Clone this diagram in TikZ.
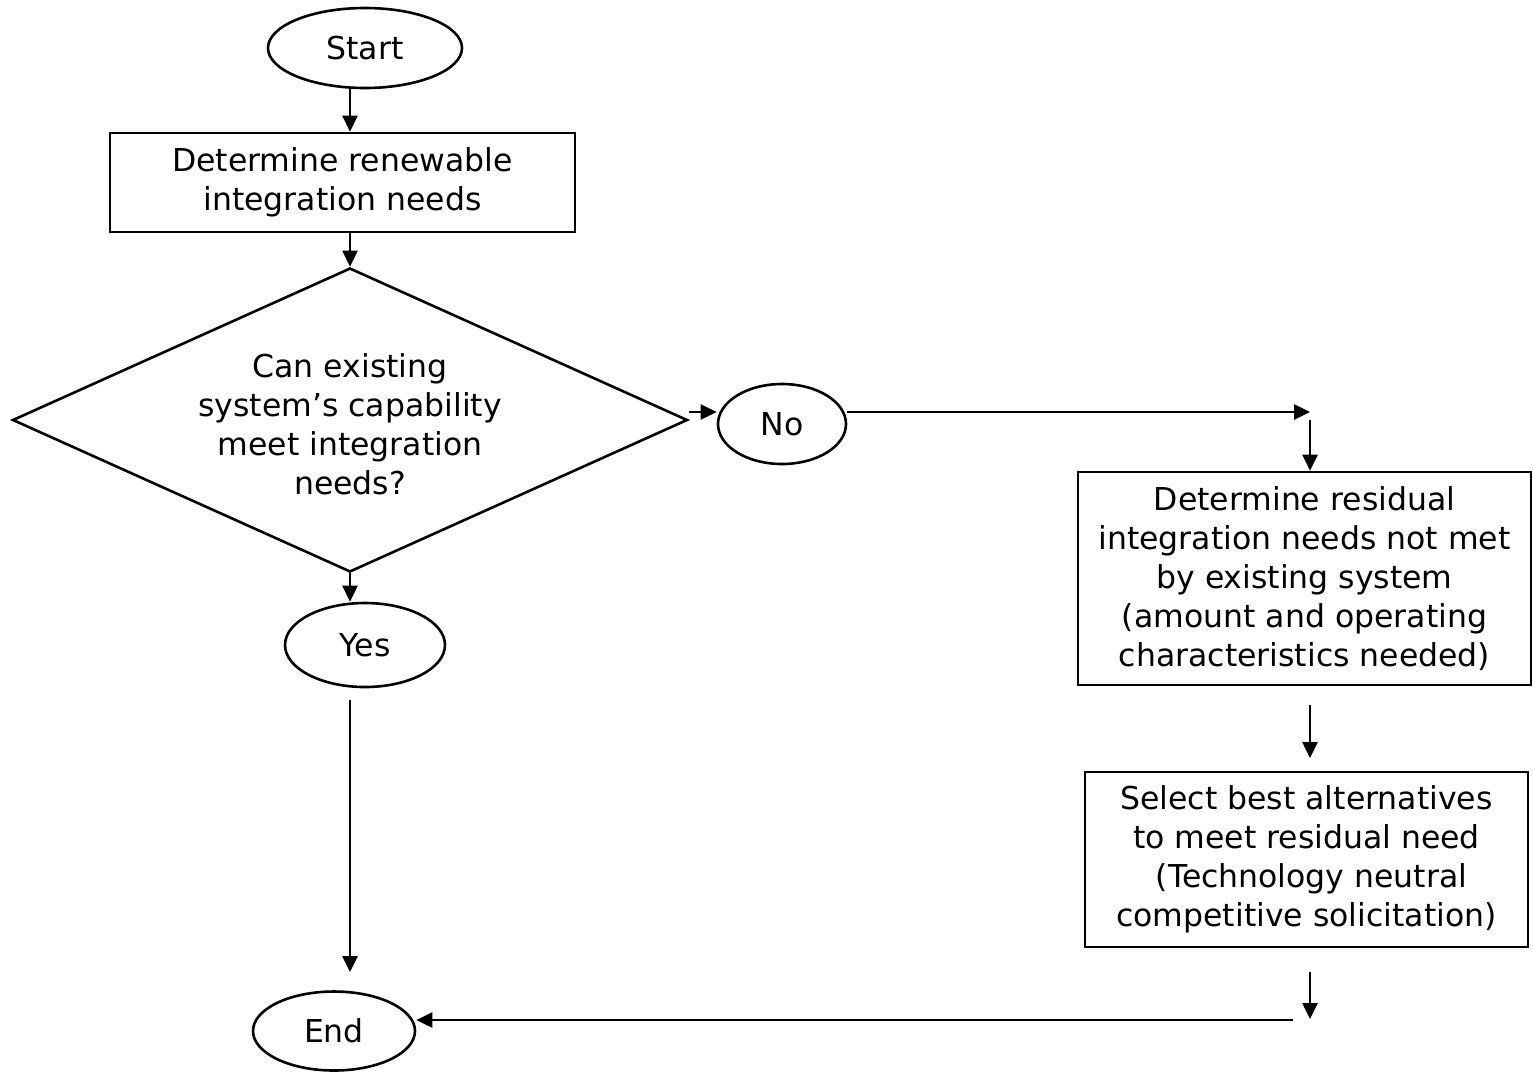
\documentclass[tikz,border=0pt]{standalone}
\usepackage{fontspec}
\setmainfont{DejaVu Sans}
\usetikzlibrary{shapes.geometric,arrows.meta}
\begin{document}
\begin{tikzpicture}[x=1pt,y=-1pt,
  every node/.style={font=\fontsize{31.5}{39}\selectfont},
  oval/.style={draw,ellipse,line width=2.6pt,inner sep=0pt},
  box/.style={draw,rectangle,line width=2.6pt,align=center,inner sep=0pt},
  arr/.style={line width=2.6pt,-{Triangle[length=16pt,width=15pt]}}]
\useasboundingbox (0,0) rectangle (1533,1072);
\node[oval,minimum width=194,minimum height=80] (start) at (365,48) {Start};
\node[box,minimum width=465,minimum height=99] (det1) at (342.5,182.5) {Determine renewable\\integration needs};
\node[draw,diamond,line width=2.6pt,inner sep=0pt,minimum width=675,minimum height=304] (dec) at (350,420) {};
\node[align=center] (dectext) at (350,424) {Can existing\\system’s capability\\meet integration\\needs?};
\node[oval,minimum width=160,minimum height=84] (yes) at (365,645) {Yes};
\node[oval,minimum width=162,minimum height=79] (end) at (334,1031) {End};
\node[oval,minimum width=128,minimum height=80] (no) at (782,424) {No};
\node[box,minimum width=453,minimum height=213] (res) at (1304.5,578.5) {Determine residual\\integration needs not met\\by existing system\\(amount and operating\\characteristics needed)};
\node[box,minimum width=443,minimum height=175] (sel) at (1306.5,859.5) {Select best alternatives\\to meet residual need\\~(Technology neutral\\competitive solicitation)};
\coordinate (xL) at (350,0);
\coordinate (ny) at (0,412);
\coordinate (nr) at (1310,412);
\coordinate (r1) at (1310,420);
\coordinate (r2) at (1310,705);
\coordinate (r3) at (1310,758);
\coordinate (r4) at (1310,972);
\coordinate (r5) at (1310,1019);
\coordinate (b1) at (1293,1020);
\coordinate (ytop) at (350,700);
\coordinate (ybot) at (350,972);
\draw[arr] (start.south -| xL) -- (det1.north -| xL);
\draw[arr] (det1.south -| xL) -- (dec.north);
\draw[arr] (dec.south) -- (dec.south |- yes.north);
\draw[arr] (ytop) -- (ybot);
\draw[arr] (dec.east |- ny) -- (no.west |- ny);
\draw[arr] (no.east |- ny) -- (nr);
\draw[arr] (r1) -- (r1 |- res.north);
\draw[arr] (r2) -- (r3);
\draw[arr] (r4) -- (r5);
\draw[arr] (b1) -- (end.east |- b1);
\end{tikzpicture}
\end{document}
